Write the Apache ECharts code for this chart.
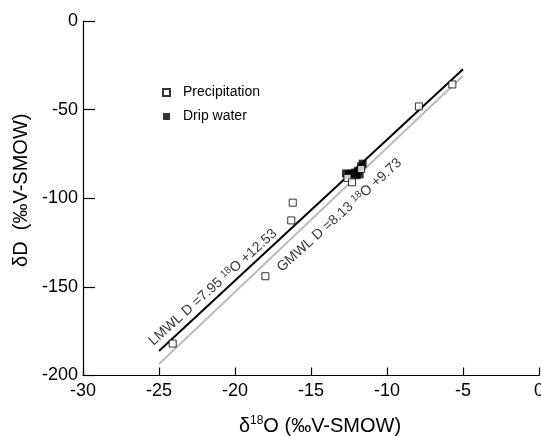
<!DOCTYPE html>
<html>
<head>
<meta charset="utf-8">
<script src="https://cdn.jsdelivr.net/npm/echarts@6/dist/echarts.min.js"></script>
<style>
  html, body { margin: 0; padding: 0; background: #fff; }
  #chart { width: 541px; height: 436px; }
</style>
</head>
<body>
<div id="chart"></div>
<script>
// Precipitation samples [δ18O, δD]
const precipitation = [
  [-24.1, -182.0], [-18.0, -144.0], [-16.3, -112.5], [-16.2, -102.5],
  [-7.9, -48.2], [-5.7, -35.8], [-12.6, -88.5], [-12.3, -91.0], [-11.7, -83.5]
];
// Drip water samples [δ18O, δD]
const dripWater = [
  [-12.7, -86.0], [-12.5, -86.5], [-12.3, -86.0], [-12.1, -85.5], [-12.0, -87.0],
  [-11.9, -84.5], [-11.8, -86.5], [-11.7, -82.0], [-11.6, -80.5]
];
// Meteoric water lines: D = slope * δ18O + intercept
const lmwl = { slope: 7.95, intercept: 12.53 };
const gmwl = { slope: 8.13, intercept: 9.73 };
const lineRange = [-25, -5];
const xTicks = [-30, -25, -20, -15, -10, -5, 0];
const yTicks = [-200, -150, -100, -50, 0];

function lineData(l) {
  return lineRange.map(x => [x, +(l.slope * x + l.intercept).toFixed(3)]);
}

const FONT = '"Liberation Sans", Arial, sans-serif';
const supStyle = { fontSize: 10, verticalAlign: 'top', lineHeight: 15, fontFamily: FONT, color: '#000' };
const eqStyle = { fontSize: 14, lineHeight: 15, fontFamily: FONT, color: '#000' };

function eqLabelSeries(pos, text) {
  return {
    type: 'scatter',
    data: [pos],
    symbolSize: 1,
    itemStyle: { color: 'transparent' },
    silent: true,
    z: 5,
    label: {
      show: true,
      position: 'inside',
      rotate: 42,
      formatter: text,
      rich: { n: eqStyle, sup: supStyle }
    }
  };
}

const chart = echarts.init(document.getElementById('chart'), null, { renderer: 'canvas' });
chart.setOption({
  animation: false,
  backgroundColor: '#fff',
  textStyle: { fontFamily: FONT },
  grid: { left: 83, right: 2, top: 21, bottom: 60.5, containLabel: false, outerBoundsMode: 'none' },
  legend: {
    data: ['Precipitation', 'Drip water'],
    orient: 'vertical',
    left: 157,
    top: 80,
    itemWidth: 7,
    itemHeight: 7,
    itemGap: 9,
    textStyle: { fontSize: 14, fontFamily: FONT, color: '#000', padding: [0, 0, 0, 8], lineHeight: 15 }
  },
  xAxis: {
    type: 'value',
    min: xTicks[0],
    max: xTicks[xTicks.length - 1],
    interval: 5,
    name: 'δ{sup|18}O (‰V-SMOW)',
    nameLocation: 'middle',
    nameGap: 39,
    nameTextStyle: {
      fontSize: 20, fontFamily: FONT, color: '#000', lineHeight: 24, padding: [0, 0, 0, 18],
      rich: { sup: { fontSize: 12, verticalAlign: 'top', lineHeight: 24, fontFamily: FONT, color: '#000' } }
    },
    axisLine: { onZero: false, lineStyle: { color: '#000', width: 1.2 } },
    axisTick: { inside: true, length: 8, lineStyle: { color: '#000', width: 1.2 } },
    axisLabel: { fontSize: 18, color: '#000', fontFamily: FONT, margin: 7 },
    splitLine: { show: false }
  },
  yAxis: {
    type: 'value',
    min: yTicks[0],
    max: yTicks[yTicks.length - 1],
    interval: 50,
    name: 'δD  (‰V-SMOW)',
    nameLocation: 'middle',
    nameGap: 48,
    nameTextStyle: { fontSize: 20, fontFamily: FONT, color: '#000', padding: [0, 0, 0, 16] },
    axisLine: { onZero: false, lineStyle: { color: '#000', width: 1.2 } },
    axisTick: { inside: true, length: 12, lineStyle: { color: '#000', width: 1.2 } },
    axisLabel: { fontSize: 18, color: '#000', fontFamily: FONT, margin: 5 },
    splitLine: { show: false }
  },
  series: [
    {
      name: 'GMWL',
      type: 'line',
      data: lineData(gmwl),
      symbol: 'none',
      lineStyle: { color: '#bcbcbc', width: 2 },
      z: 1
    },
    {
      name: 'LMWL',
      type: 'line',
      data: lineData(lmwl),
      symbol: 'none',
      lineStyle: { color: '#000', width: 2 },
      z: 2
    },
    {
      name: 'Drip water',
      type: 'scatter',
      data: dripWater,
      symbol: 'rect',
      symbolSize: 8,
      itemStyle: { color: '#000' },
      z: 3
    },
    {
      name: 'Precipitation',
      type: 'scatter',
      data: precipitation,
      symbol: 'rect',
      symbolSize: 7,
      itemStyle: { color: '#fff', borderColor: '#000', borderWidth: 1 },
      z: 4
    },
    eqLabelSeries([-21.45, -150.3], '{n|LMWL D =7.95 }{sup|18}{n|O +12.53}'),
    eqLabelSeries([-13.13, -109.6], '{n|GMWL D =8.13 }{sup|18}{n|O +9.73}')
  ]
});
</script>
</body>
</html>
